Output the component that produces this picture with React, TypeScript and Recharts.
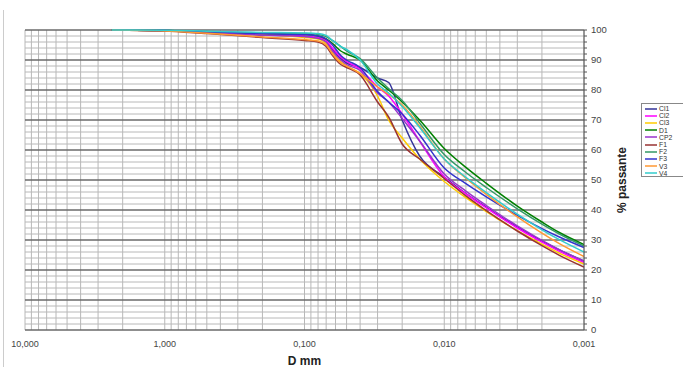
import {
  LineChart, Line, XAxis, YAxis, CartesianGrid, ReferenceLine
} from "recharts";

// particle diameters (mm), coarse -> fine
const DIAMETERS = [2.4, 1, 0.5, 0.2, 0.1, 0.08, 0.07, 0.063, 0.055, 0.05, 0.04, 0.03, 0.025, 0.02, 0.015, 0.01, 0.007, 0.005, 0.003, 0.002, 0.0015, 0.001];

// % passing for each sample
const CL1 = [100, 99.8, 99.3, 98.3, 97.8, 97.3, 96, 93.5, 90.5, 89, 87.5, 84, 82.5, 70, 58, 51, 45.5, 40.9, 34.3, 29.7, 26.7, 23];
const CL2 = [100, 99.8, 99.2, 98.5, 98, 97.5, 96.5, 94, 91, 89.5, 87, 81, 78, 72, 63, 51, 45.4, 40.7, 34, 29.3, 26.2, 22.5];
const CL3 = [100, 99.8, 99.2, 98.5, 97.5, 97, 95.5, 92.5, 89.5, 88, 85.5, 78, 70, 64, 57, 49.5, 44.1, 39.5, 33.1, 28.6, 25.6, 22];
const D1 = [100, 99.8, 99.3, 98.8, 98.5, 98, 97, 95.5, 93, 92, 90, 83, 80, 76, 70, 60.5, 54.2, 48.9, 41.3, 36, 32.5, 28.5];
const CP2 = [100, 99.8, 99.2, 98.3, 97.8, 97.2, 96, 93, 90, 88.5, 86.5, 79, 76, 70.5, 63, 52, 46.3, 41.5, 34.7, 29.9, 26.8, 23];
const F1 = [100, 99.7, 98.8, 97.5, 96.5, 96, 94.5, 91.5, 88.5, 87.5, 85, 76, 71, 62, 57, 50.5, 44.7, 39.8, 33, 28.1, 24.9, 21];
const F2 = [100, 99.8, 99.5, 99, 98.8, 98.5, 97.8, 96.5, 94.5, 93, 90.5, 84, 80.5, 76.5, 69, 58.5, 52.5, 47.5, 40.4, 35.3, 32, 28];
const F3 = [100, 99.8, 99.4, 98.8, 98.5, 98, 97, 95, 91.5, 90, 87.5, 79.5, 76, 72, 65, 54, 48.8, 44.4, 38.2, 33.8, 31, 27.5];
const V3 = [100, 99.7, 98.9, 97.7, 96.8, 96.3, 95, 92, 89, 88, 85.5, 81, 78.5, 75, 68, 57, 50.6, 45.2, 37.7, 32.3, 28.8, 24.5];
const V4 = [100, 99.9, 99.6, 99.2, 99, 98.8, 98.2, 96.5, 94.5, 93.5, 90, 82, 79, 74.5, 67.5, 57, 50.9, 45.8, 38.6, 33.4, 30.1, 26];

const SERIES = [
  { name: "Cl1", values: CL1, color: "#333399" },
  { name: "Cl2", values: CL2, color: "#ff00ff" },
  { name: "Cl3", values: CL3, color: "#ffcc00" },
  { name: "D1", values: D1, color: "#008000" },
  { name: "CP2", values: CP2, color: "#9933cc" },
  { name: "F1", values: F1, color: "#993333" },
  { name: "F2", values: F2, color: "#339966" },
  { name: "F3", values: F3, color: "#3333cc" },
  { name: "V3", values: V3, color: "#ff9933" },
  { name: "V4", values: V4, color: "#33cccc" },
];

const DECADES = [10, 1, 0.1, 0.01, 0.001];
const Y_MAJOR = [0, 10, 20, 30, 40, 50, 60, 70, 80, 90, 100];

// log grid: 1..9 within each decade
const X_GRID: number[] = [];
[0.001, 0.01, 0.1, 1].forEach(base => {
  for (let k = 1; k <= 9; k++) X_GRID.push(+(base * k).toPrecision(3));
});
X_GRID.push(10);

const Y_GRID: number[] = [];
for (let v = 0; v <= 100; v += 2) Y_GRID.push(v);

const rows = DIAMETERS.map((d, i) => {
  const row: any = { d };
  SERIES.forEach(s => { row[s.name] = s.values[i]; });
  return row;
});

const FONT = "'Liberation Sans', Arial, sans-serif";

const fmtX = (v: number) =>
  DECADES.some(t => Math.abs(t - v) < 1e-9) ? v.toFixed(3).replace(".", ",") : "";

const YLabel = (props: any) => {
  const vb = props.viewBox || {};
  const cx = 622;
  const cy = (vb.y ?? 30) + (vb.height ?? 300) / 2;
  return (
    <text x={cx} y={cy} transform={`rotate(-90 ${cx} ${cy})`} textAnchor="middle"
      dominantBaseline="central" fontSize={12} fontWeight="bold" fill="#222" fontFamily={FONT}>
      % passante
    </text>
  );
};

const XLabel = (props: any) => {
  const vb = props.viewBox || {};
  const cx = (vb.x ?? 25) + (vb.width ?? 559) / 2;
  return (
    <text x={cx} y={365} textAnchor="middle" fontSize={12} fontWeight="bold" fill="#222" fontFamily={FONT}>
      D mm
    </text>
  );
};

const LegendBox = () => (
  <div style={{
    position: "absolute", left: 641, top: 103, width: 46, height: 74,
    border: "1px solid #888", background: "#fff", padding: "1px 0 0 3px",
    fontFamily: FONT, boxSizing: "border-box",
  }}>
    {SERIES.map(s => (
      <div key={s.name} style={{ display: "flex", alignItems: "center", height: 7.2, fontSize: 6.8, color: "#333", lineHeight: "7px" }}>
        <svg width={12} height={4} style={{ display: "block" }}>
          <line x1={0} y1={2} x2={12} y2={2} stroke={s.color} strokeWidth={1.5} />
        </svg>
        <span style={{ marginLeft: 2 }}>{s.name}</span>
      </div>
    ))}
  </div>
);

export default function App() {
  return (
    <div style={{ position: "absolute", left: 0, top: 0, width: 683, height: 367, background: "#fff", overflow: "hidden" }}>
      <div style={{ position: "absolute", left: 3, top: 10, height: 357, borderLeft: "1px solid #ccc" }} />
      <LineChart width={683} height={367} data={rows} margin={{ top: 30, right: 0, left: 25, bottom: 0 }}>
        <CartesianGrid stroke="#b8b8b8" strokeWidth={1} />
        <XAxis
          dataKey="d"
          type="number"
          scale="log"
          domain={[0.001, 10]}
          reversed
          allowDataOverflow
          ticks={X_GRID}
          interval={0}
          tickFormatter={fmtX}
          tickLine={false}
          axisLine={false}
          tickSize={6}
          tickMargin={5}
          height={37}
          tick={{ fontSize: 9, fill: "#444", fontFamily: FONT }}
          label={<XLabel />}
        />
        <YAxis
          orientation="right"
          type="number"
          domain={[0, 100]}
          ticks={Y_GRID}
          interval={0}
          tickFormatter={(v: number) => (v % 10 === 0 ? String(v) : "")}
          width={99}
          tickSize={3}
          tickMargin={4}
          axisLine={{ stroke: "#555" }}
          tickLine={{ stroke: "#555" }}
          tick={{ fontSize: 9.5, fill: "#444", fontFamily: FONT, textAnchor: "start" }}
          label={<YLabel />}
        />
        {Y_MAJOR.map(v => (
          <ReferenceLine key={v} y={v} stroke="#444" strokeWidth={1.2} />
        ))}
        {SERIES.map(s => (
          <Line
            key={s.name}
            type="monotone"
            dataKey={s.name}
            stroke={s.color}
            strokeWidth={1.5}
            dot={false}
            isAnimationActive={false}
          />
        ))}
      </LineChart>
      <LegendBox />
    </div>
  );
}
